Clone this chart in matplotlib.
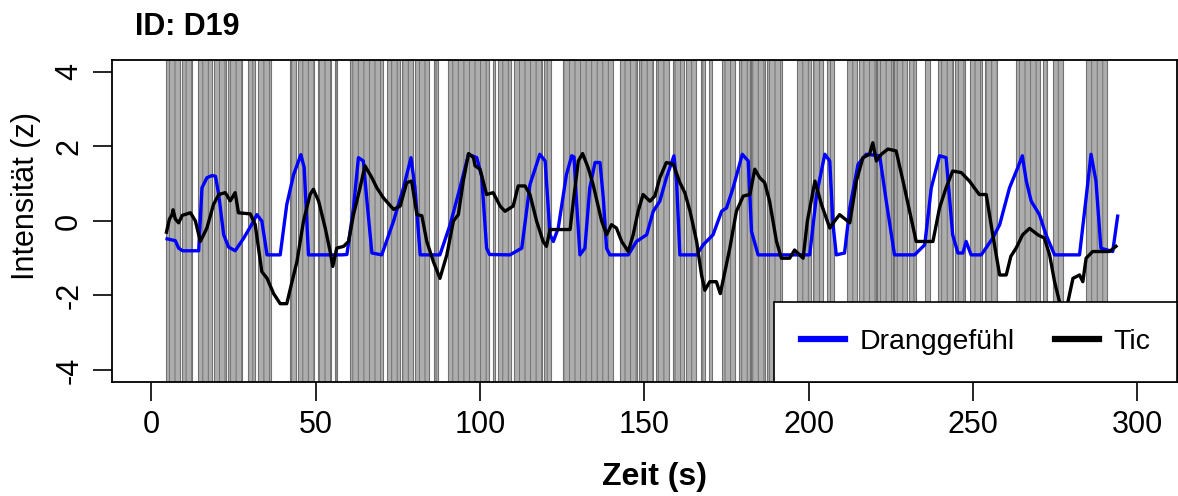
import matplotlib
matplotlib.use("Agg")
import matplotlib.pyplot as plt
from matplotlib.lines import Line2D

plt.rcParams['font.family'] = ['Liberation Sans', 'DejaVu Sans']
plt.rcParams['axes.unicode_minus'] = False
plt.rcParams['hatch.linewidth'] = 0.7

# tic episodes (start, end) in seconds
tic_start = [4.6, 9.4, 14.3, 19.1, 23.4, 29.5, 32.5, 42.2, 44.7, 50.8, 55.9,
             60.5, 71.7, 76.3, 80.2, 86.0, 90.3, 103.9, 105.5, 110.3, 119.5,
             125.2, 142.6, 148.3, 153.5, 158.7, 162.6, 167.2, 169.6, 173.6,
             178.7, 182.4, 187.2, 196.4, 201.2, 205.5, 211.6, 215.2, 220.7,
             226.1, 230.4, 235.3, 239.2, 244.4, 249.2, 253.5, 263.2, 271.4,
             274.2, 284.5]
tic_end = [8.8, 12.5, 18.5, 22.8, 27.7, 31.6, 36.5, 44.1, 49.5, 54.7, 56.5,
           70.5, 75.7, 79.6, 84.5, 87.2, 102.7, 104.6, 109.4, 118.8, 121.6,
           140.4, 147.7, 152.6, 157.4, 162.0, 165.7, 168.4, 170.5, 177.5,
           182.1, 186.6, 191.8, 200.6, 204.3, 207.6, 214.6, 220.4, 225.5,
           229.8, 232.5, 236.8, 243.8, 247.7, 252.6, 257.4, 270.5, 272.6,
           277.5, 290.9]

# Dranggefühl (urge), z-scores
urge_t = [4.8, 7.3, 8.3, 9.5, 14.4, 15.4, 16.9, 18.5, 19.5, 20.5, 22.0, 23.5,
          25.5, 28.1, 30.5, 32.1, 33.6, 35.2, 39.2, 41.2, 43.3, 45.5, 46.5,
          47.8, 53.4, 58.0, 59.5, 61.5, 63.0, 64.5, 65.5, 67.1, 70.1, 73.7,
          76.7, 79.0, 80.2, 81.8, 87.8, 90.9, 93.9, 96.5, 99.0, 100.5, 102.0,
          102.9, 109.1, 112.7, 115.2, 118.2, 119.8, 121.3, 122.3, 123.8,
          126.3, 127.9, 128.6, 129.3, 130.4, 131.9, 133.4, 135.0, 136.5,
          137.5, 138.5, 139.5, 145.1, 147.6, 150.7, 152.7, 154.7, 156.7,
          159.0, 159.8, 160.8, 165.9, 167.9, 170.9, 173.5, 175.0, 177.0,
          179.8, 181.6, 182.6, 184.6, 200.3, 202.4, 204.9, 206.4, 207.4,
          208.4, 210.9, 212.5, 215.0, 217.5, 221.6, 223.6, 226.1, 232.2,
          235.3, 237.3, 239.8, 241.8, 243.8, 245.4, 246.9, 247.9, 249.4,
          252.5, 256.0, 258.1, 261.1, 263.6, 265.0, 266.2, 267.7, 270.2,
          272.2, 274.8, 282.4, 284.4, 285.9, 287.4, 288.9, 292.5, 294.0]
urge_v = [-0.48, -0.53, -0.73, -0.8, -0.8, 0.89, 1.16, 1.22, 1.2, 0.71, -0.37,
          -0.7, -0.8, -0.46, -0.1, 0.17, 0.0, -0.91, -0.91, 0.44, 1.25, 1.78,
          1.43, -0.91, -0.91, -0.91, -0.9, 0.35, 1.70, 1.61, 0.62, -0.86,
          -0.91, 0.0, 0.89, 1.70, 0.89, -0.91, -0.91, -0.1, 0.89, 1.79, 1.70,
          1.2, -0.73, -0.9, -0.91, -0.73, 0.98, 1.79, 1.61, -0.37, -0.55,
          -0.19, 1.25, 1.75, 1.72, 0.6, -0.91, -0.73, 0.89, 1.57, 1.57, 0.62,
          -0.73, -0.91, -0.91, -0.55, -0.37, 0.26, 0.53, 1.16, 1.75, 1.07,
          -0.91, -0.91, -0.64, -0.37, 0.26, 0.35, 0.89, 1.79, 1.61, -0.28,
          -0.91, -0.91, 0.71, 1.79, 1.61, -0.1, -0.91, -0.86, 0.35, 1.52,
          1.79, 1.75, 0.53, -0.91, -0.91, -0.64, 0.89, 1.75, 1.70, -0.37,
          -0.86, -0.86, -0.55, -0.91, -0.91, -0.46, -0.1, 0.89, 1.43, 1.75,
          1.07, 0.53, 0.17, -0.37, -0.91, -0.91, 0.62, 1.79, 1.07, -0.73,
          -0.82, 0.13]

# Tic intensity, z-scores
tic_t = [4.6, 5.5, 6.3, 6.6, 7.3, 8.3, 9.4, 11.9, 13.4, 14.9, 16.9, 18.9,
         20.5, 22.5, 24.0, 25.5, 26.5, 30.1, 31.6, 33.6, 35.2, 37.2, 39.2,
         41.2, 42.8, 44.3, 46.3, 48.3, 49.3, 50.9, 52.9, 54.4, 55.2, 56.4,
         58.5, 60.0, 61.5, 63.5, 65.0, 67.1, 68.6, 70.6, 73.7, 75.7, 77.7,
         79.2, 80.8, 82.3, 83.8, 85.8, 87.8, 89.9, 91.9, 93.4, 94.9, 96.5,
         98.0, 98.5, 100.0, 102.0, 104.0, 106.1, 107.6, 110.1, 111.6, 113.7,
         115.2, 117.2, 119.2, 120.2, 121.3, 127.4, 128.4, 129.9, 131.2,
         132.9, 134.4, 137.0, 138.5, 140.0, 141.5, 143.1, 145.1, 146.6,
         148.1, 149.6, 151.7, 153.2, 154.7, 156.7, 158.8, 160.8, 162.3,
         163.9, 165.9, 167.4, 168.4, 169.9, 171.9, 173.1, 174.5, 176.0,
         178.0, 180.1, 182.1, 183.6, 185.1, 186.6, 188.1, 190.2, 191.7,
         194.2, 195.7, 198.3, 199.6, 201.9, 203.9, 206.4, 207.9, 209.4,
         212.5, 214.5, 216.5, 218.5, 219.5, 220.6, 222.1, 224.1, 226.6,
         228.7, 230.7, 232.7, 237.8, 239.8, 241.8, 243.8, 246.4, 248.9,
         251.9, 254.0, 256.0, 258.1, 260.1, 261.5, 263.1, 265.1, 267.2,
         269.7, 271.7, 273.3, 274.8, 276.3, 277.3, 278.3, 278.8, 280.4,
         282.4, 283.4, 284.4, 286.4, 291.5, 293.5]
tic_v = [-0.30, 0.05, 0.17, 0.3, 0.05, -0.05, 0.15, 0.22, 0.0, -0.55, -0.19,
         0.44, 0.71, 0.76, 0.54, 0.76, 0.22, 0.19, -0.1, -1.36, -1.54, -1.95,
         -2.22, -2.22, -1.63, -1.09, 0.0, 0.71, 0.85, 0.53, -0.19, -0.82,
         -1.22, -0.73, -0.68, -0.55, 0.17, 0.89, 1.48, 1.16, 0.89, 0.62,
         0.31, 0.40, 1.03, 1.07, 0.17, 0.14, -0.55, -1.09, -1.54, -0.91, 0.0,
         0.17, 1.07, 1.81, 1.70, 1.48, 1.39, 0.71, 0.76, 0.40, 0.26, 0.40,
         0.94, 0.94, 0.71, 0.0, -0.55, -0.68, -0.23, -0.23, 0.53, 1.61, 1.81,
         1.43, 0.98, 0.0, -0.37, -0.10, -0.19, -0.55, -0.82, -0.37, 0.26,
         0.71, 0.53, 0.67, 1.16, 1.57, 1.52, 1.03, 0.76, 0.26, -0.55, -1.45,
         -1.86, -1.63, -1.63, -1.95, -1.36, -0.73, 0.26, 0.67, 0.71, 1.39,
         1.16, 1.03, 0.53, -0.55, -1.0, -1.0, -0.78, -1.0, 0.0, 1.07, 0.44,
         -0.19, 0.0, 0.17, -0.05, 1.07, 1.70, 1.79, 2.10, 1.61, 1.79, 1.93,
         1.88, 1.07, 0.26, -0.55, -0.55, 0.35, 0.89, 1.34, 1.30, 1.07, 0.71,
         0.71, -0.37, -1.45, -1.45, -0.95, -0.73, -0.37, -0.2, -0.37, -0.46,
         -0.91, -1.63, -2.17, -2.5, -2.4, -2.2, -1.54, -1.45, -1.63, -1.0,
         -0.82, -0.82, -0.68]

x_ticks = [0, 50, 100, 150, 200, 250, 300]
y_ticks = [-4, -2, 0, 2, 4]

fig = plt.figure(figsize=(11.78, 4.96), dpi=100)
ax = fig.add_axes([0.095, 0.230, 0.904, 0.649])

for s, e in zip(tic_start, tic_end):
    ax.axvspan(s, e, facecolor='#adadad', edgecolor='#727272', hatch='|||',
               lw=0.8, zorder=1)

ax.plot(urge_t, urge_v, color='#0000ff', lw=2.4, zorder=3)
ax.plot(tic_t, tic_v, color='black', lw=2.4, zorder=3)

ax.set_xlim(-12, 312)
ax.set_ylim(-4.32, 4.32)
ax.set_xticks(x_ticks)
ax.set_yticks(y_ticks)
ax.tick_params(length=14, width=1.2, labelsize=22, pad=6)
for lab in ax.get_yticklabels():
    lab.set_rotation(90)
    lab.set_va('center')
for sp in ax.spines.values():
    sp.set_linewidth(1.3)

handles = [Line2D([], [], color='#0000ff', lw=4.5),
           Line2D([], [], color='black', lw=4.5)]
leg = ax.legend(handles, ['Dranggefühl', 'Tic'], loc='lower right', ncol=2,
                fontsize=20.5, frameon=True, fancybox=False, framealpha=1,
                edgecolor='black', borderaxespad=0, handlelength=1.55,
                handletextpad=0.5, columnspacing=1.4, borderpad=0.95)
leg.get_frame().set_linewidth(1.2)
leg.set_zorder(5)

fig.text(135 / 1178, 1 - 27 / 496, 'ID: D19', fontsize=22, fontweight='bold',
         ha='left', va='center')
fig.text(26 / 1178, 1 - 196 / 496, 'Intensität (z)', fontsize=22,
         rotation=90, ha='center', va='center')
fig.text(654 / 1178, 1 - 477 / 496, 'Zeit (s)', fontsize=23,
         fontweight='bold', ha='center', va='center')

fig.savefig('out.png', dpi=100)
